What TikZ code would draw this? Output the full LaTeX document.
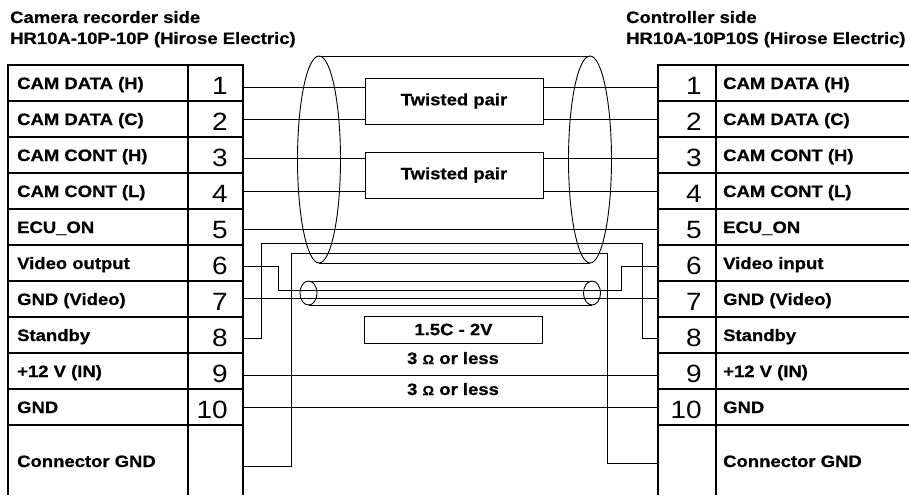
\documentclass[tikz,border=0pt]{standalone}
\usepackage{fontspec}
\setmainfont{Liberation Sans}[FakeStretch=1.12, BoldFeatures={FakeBold=0.7}]
\usetikzlibrary{positioning}

\begin{document}
\begin{tikzpicture}[x=1pt,y=-1pt]
\tikzstyle{every node}+=[inner sep=0pt]
\tikzstyle{head}=[font=\bfseries\fontsize{16.5}{18}\selectfont, anchor=base west]
\tikzstyle{lbl}=[font=\bfseries\fontsize{16.5}{18}\selectfont, anchor=base west]
\tikzstyle{pin}=[font=\fontsize{25}{27}\selectfont, anchor=base east]
\tikzstyle{tbl}=[black, line width=1.2pt]
\tikzstyle{wire}=[black, line width=0.9pt]
\tikzstyle{cbox}=[draw, line width=1pt, font=\bfseries\fontsize{16.5}{18}\selectfont, minimum width=178pt]
\useasboundingbox (0,0) rectangle (909,495);
% headings
\node [head] (hl1) at (10,23) {Camera recorder side};
\node [head] (hl2) at (10,44) {HR10A-10P-10P (Hirose Electric)};
\node [head] (hr1) at (626,23) {Controller side};
\node [head] (hr2) at (626,44) {HR10A-10P10S (Hirose Electric)};
% camera recorder side table
\draw [tbl] (8,495) -- (8,65) -- (243,65) -- (243,495);
\draw [tbl] (188,65) -- (188,495);
\draw [tbl] (8,101) -- (243,101) (8,137) -- (243,137) (8,173) -- (243,173)
  (8,209) -- (243,209) (8,245) -- (243,245) (8,281) -- (243,281)
  (8,317) -- (243,317) (8,353) -- (243,353) (8,389) -- (243,389)
  (8,425) -- (243,425);
\node [lbl] (ln1) at (17,89) {CAM DATA (H)};
\node [lbl] (ln2) at (17,125) {CAM DATA (C)};
\node [lbl] (ln3) at (17,161) {CAM CONT (H)};
\node [lbl] (ln4) at (17,197) {CAM CONT (L)};
\node [lbl] (ln5) at (17,233) {ECU\_ON};
\node [lbl] (ln6) at (17,269) {Video output};
\node [lbl] (ln7) at (17,305) {GND (Video)};
\node [lbl] (ln8) at (17,341) {Standby};
\node [lbl] (ln9) at (17,377) {+12 V (IN)};
\node [lbl] (ln10) at (17,413) {GND};
\node [lbl] (lnG) at (17,467) {Connector GND};
\node [pin] (lp1) at (228,94) {1};
\node [pin] (lp2) at (228,130) {2};
\node [pin] (lp3) at (228,166) {3};
\node [pin] (lp4) at (228,202) {4};
\node [pin] (lp5) at (228,238) {5};
\node [pin] (lp6) at (228,274) {6};
\node [pin] (lp7) at (228,310) {7};
\node [pin] (lp8) at (228,346) {8};
\node [pin] (lp9) at (228,382) {9};
\node [pin] (lp10) at (228,418) {10};
% controller side table
\draw [tbl] (658,495) -- (658,65) -- (909,65);
\draw [tbl] (716,65) -- (716,495);
\draw [tbl] (658,101) -- (909,101) (658,137) -- (909,137) (658,173) -- (909,173)
  (658,209) -- (909,209) (658,245) -- (909,245) (658,281) -- (909,281)
  (658,317) -- (909,317) (658,353) -- (909,353) (658,389) -- (909,389)
  (658,425) -- (909,425);
\node [pin] (rp1) at (702,94) {1};
\node [pin] (rp2) at (702,130) {2};
\node [pin] (rp3) at (702,166) {3};
\node [pin] (rp4) at (702,202) {4};
\node [pin] (rp5) at (702,238) {5};
\node [pin] (rp6) at (702,274) {6};
\node [pin] (rp7) at (702,310) {7};
\node [pin] (rp8) at (702,346) {8};
\node [pin] (rp9) at (702,382) {9};
\node [pin] (rp10) at (702,418) {10};
\node [lbl] (rn1) at (723,89) {CAM DATA (H)};
\node [lbl] (rn2) at (723,125) {CAM DATA (C)};
\node [lbl] (rn3) at (723,161) {CAM CONT (H)};
\node [lbl] (rn4) at (723,197) {CAM CONT (L)};
\node [lbl] (rn5) at (723,233) {ECU\_ON};
\node [lbl] (rn6) at (723,269) {Video input};
\node [lbl] (rn7) at (723,305) {GND (Video)};
\node [lbl] (rn8) at (723,341) {Standby};
\node [lbl] (rn9) at (723,377) {+12 V (IN)};
\node [lbl] (rn10) at (723,413) {GND};
\node [lbl] (rnG) at (723,467) {Connector GND};
% pin ends of the wires
\coordinate (L1) at (243,87);  \coordinate (R1) at (658,87);
\coordinate (L2) at (243,119); \coordinate (R2) at (658,119);
\coordinate (L3) at (243,158); \coordinate (R3) at (658,158);
\coordinate (L4) at (243,191); \coordinate (R4) at (658,191);
\coordinate (L5) at (243,229); \coordinate (R5) at (658,229);
\coordinate (L6) at (243,266); \coordinate (R6) at (658,266);
\coordinate (L7) at (243,298); \coordinate (R7) at (658,298);
\coordinate (L8) at (243,338); \coordinate (R8) at (658,338);
\coordinate (L9) at (243,375); \coordinate (R9) at (658,375);
\coordinate (L10) at (243,407); \coordinate (R10) at (658,407);
\coordinate (LG) at (243,466); \coordinate (RG) at (658,463);
% cable boxes and texts
\node [cbox, minimum height=46pt] (tp1) at (454,101) {Twisted pair};
\node [cbox, minimum height=46pt] (tp2) at (454,175) {Twisted pair};
\node [cbox, minimum height=27pt] (coax) at (453.5,329.5) {1.5C - 2V};
\node [lbl, anchor=base] (res9) at (453,364) {3 {\fontsize{13}{14}\selectfont Ω} or less};
\node [lbl, anchor=base] (res10) at (453,395) {3 {\fontsize{13}{14}\selectfont Ω} or less};
% overall shield
\draw [wire] (319,159.5) ellipse [x radius=21.5pt, y radius=103.5pt];
\draw [wire] (590,159.5) ellipse [x radius=21.5pt, y radius=103.5pt];
\draw [wire] (319,56) -- (590,56);
\draw [wire] (319,263) -- (590,263);
% coax shield
\draw [wire] (308.5,293) ellipse [x radius=8.5pt, y radius=12pt];
\draw [wire] (592,293) ellipse [x radius=8.5pt, y radius=12pt];
\draw [wire] (308.5,281) -- (592,281);
\draw [wire] (308.5,305) -- (592,305);
% wires
\draw [wire] (L1) -- (L1 -| tp1.west);
\draw [wire] (tp1.east |- R1) -- (R1);
\draw [wire] (L2) -- (L2 -| tp1.west);
\draw [wire] (tp1.east |- R2) -- (R2);
\draw [wire] (L3) -- (L3 -| tp2.west);
\draw [wire] (tp2.east |- R3) -- (R3);
\draw [wire] (L4) -- (L4 -| tp2.west);
\draw [wire] (tp2.east |- R4) -- (R4);
\draw [wire] (L5) -- (R5);
\draw [wire] (L6) -| (278,290) -- (621,290) |- (R6);
\draw [wire] (L7) -- (R7);
\draw [wire] (L8) -| (261,243) -- (642,243) |- (R8);
\draw [wire] (L9) -- (R9);
\draw [wire] (L10) -- (R10);
\draw [wire] (LG) -| (291,253) -- (607,253) |- (RG);
\end{tikzpicture}
\end{document}
